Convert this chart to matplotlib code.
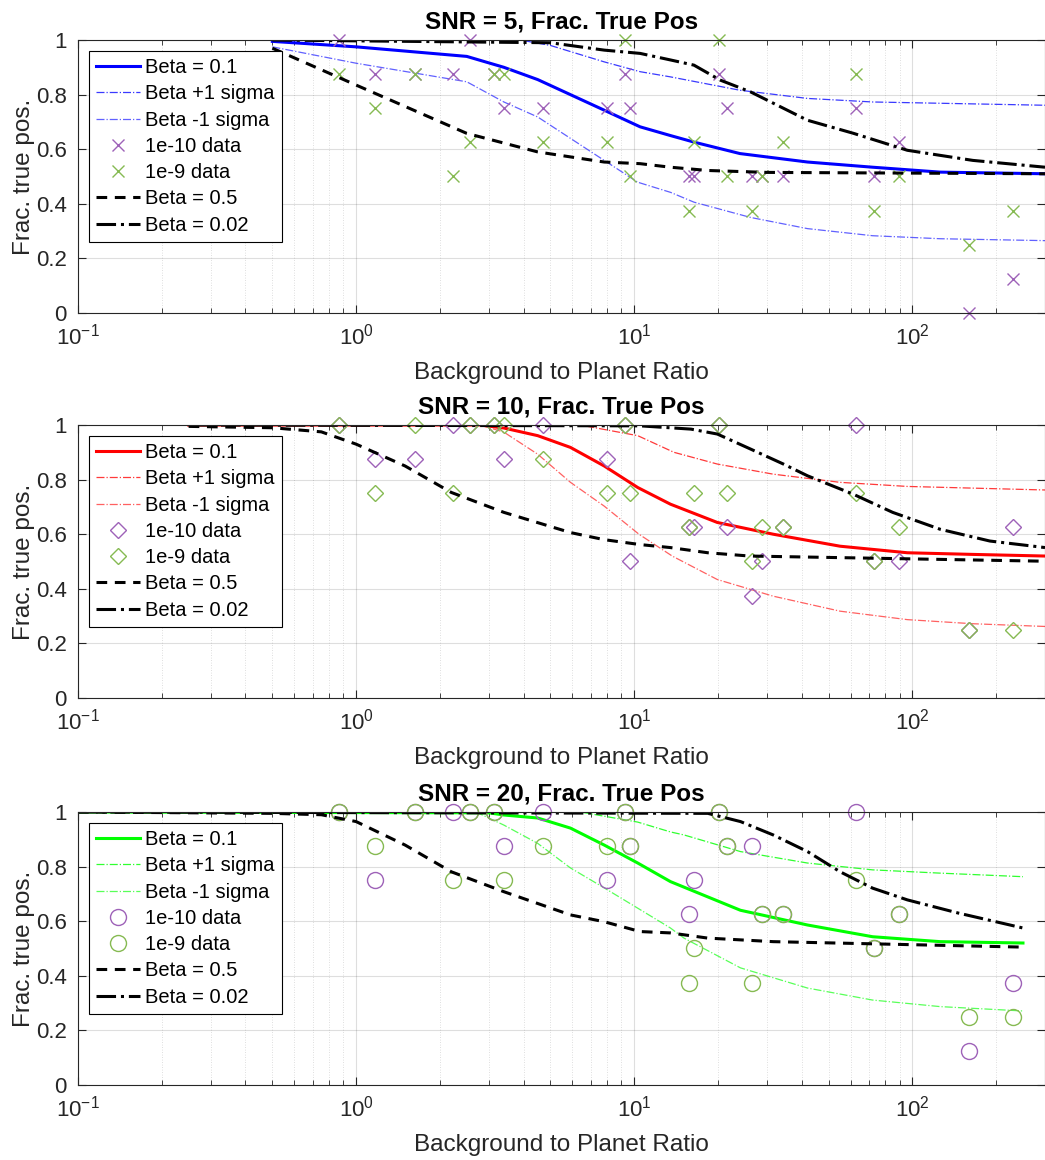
import numpy as np
import matplotlib
matplotlib.use('Agg')
import matplotlib.pyplot as plt
from matplotlib.ticker import LogLocator, NullFormatter, FixedLocator, FixedFormatter

plt.rcParams.update({'font.family': ['Liberation Sans', 'DejaVu Sans'],
    'axes.edgecolor': '#262626', 'xtick.color': '#262626', 'ytick.color': '#262626',
    'axes.labelcolor': '#262626', 'axes.linewidth': 0.8})

# ---- data ----------------------------------------------------------
xdata = [0.87, 1.17, 1.63, 2.23, 2.57, 3.13, 3.40, 4.69, 7.96, 9.25, 9.63, 15.7, 16.4,
         20.1, 21.5, 26.6, 28.9, 34.4, 63.0, 73.1, 89.8, 160, 231]

# SNR = 5
s5_m = [1.0, 0.875, 0.875, 0.875, 1.0, 0.875, 0.75, 0.75, 0.75, 0.875, 0.75, 0.5, 0.5,
        0.875, 0.75, 0.5, 0.5, 0.5, 0.75, 0.5, 0.625, 0.0, 0.125]
s5_g = [0.875, 0.75, 0.875, 0.5, 0.625, 0.875, 0.875, 0.625, 0.625, 1.0, 0.5, 0.375, 0.625,
        1.0, 0.5, 0.375, 0.5, 0.625, 0.875, 0.375, 0.5, 0.25, 0.375]
s5_b01_x = [0.5, 1.0, 2.5, 3.4, 4.5, 7.8, 10.5, 13.5, 16.4, 24, 42, 72, 126, 300]
s5_b01_y = [0.995, 0.975, 0.94, 0.9, 0.855, 0.743, 0.682, 0.65, 0.626, 0.584, 0.553, 0.534, 0.516, 0.51]
s5_p1_x = [0.5, 3.9, 5.0, 7.8, 10.5, 13.5, 24, 42, 72, 300]
s5_p1_y = [1.0, 1.0, 0.98, 0.92, 0.884, 0.865, 0.816, 0.786, 0.773, 0.761]
s5_m1_x = [0.5, 1.0, 2.5, 3.4, 4.5, 7.8, 10.3, 13.5, 16.4, 26.2, 42, 72, 126, 300]
s5_m1_y = [0.975, 0.915, 0.847, 0.773, 0.718, 0.559, 0.479, 0.442, 0.406, 0.35, 0.309, 0.283, 0.272, 0.265]
s5_d05_x = [0.5, 1.0, 2.5, 4.5, 7.8, 10.5, 13.5, 18.4, 30, 300]
s5_d05_y = [0.97, 0.835, 0.658, 0.59, 0.553, 0.547, 0.534, 0.522, 0.515, 0.51]
s5_d002_x = [0.5, 5.0, 7.8, 10.5, 13.5, 16.4, 20.4, 26.2, 42, 61.5, 96, 165, 300]
s5_d002_y = [1.0, 0.99, 0.963, 0.951, 0.927, 0.908, 0.853, 0.81, 0.706, 0.658, 0.596, 0.559, 0.534]

# SNR = 10
s10_m = [1.0, 0.875, 0.875, 1.0, 1.0, 1.0, 0.875, 1.0, 0.875, 1.0, 0.5, 0.625, 0.625,
         1.0, 0.625, 0.375, 0.5, 0.625, 1.0, 0.5, 0.5, 0.25, 0.625]
s10_g = [1.0, 0.75, 1.0, 0.75, 1.0, 1.0, 1.0, 0.875, 0.75, 1.0, 0.75, 0.625, 0.75,
         1.0, 0.75, 0.5, 0.625, 0.625, 0.75, 0.5, 0.625, 0.25, 0.25]
s10_b01_x = [0.25, 2.8, 3.4, 4.5, 5.9, 7.8, 10.3, 13.5, 19.9, 31.6, 55, 96, 165, 300]
s10_b01_y = [1.0, 1.0, 0.989, 0.961, 0.918, 0.85, 0.771, 0.71, 0.643, 0.6, 0.556, 0.532, 0.526, 0.52]
s10_p1_x = [0.25, 6.4, 10.3, 13.9, 19.9, 31.6, 55, 96, 300]
s10_p1_y = [1.0, 1.0, 0.961, 0.9, 0.857, 0.82, 0.79, 0.775, 0.762]
s10_m1_x = [0.25, 2.8, 3.4, 4.5, 5.9, 7.8, 10.4, 13.7, 19.9, 31.6, 55, 96, 165, 300]
s10_m1_y = [1.0, 1.0, 0.974, 0.893, 0.79, 0.703, 0.6, 0.52, 0.434, 0.373, 0.318, 0.287, 0.272, 0.262]
s10_d05_x = [0.25, 0.5, 0.75, 1.0, 1.5, 2.2, 3.4, 5.9, 7.8, 10.5, 13.5, 18.4, 26, 300]
s10_d05_y = [0.995, 0.99, 0.975, 0.93, 0.85, 0.753, 0.68, 0.606, 0.58, 0.562, 0.551, 0.532, 0.52, 0.501]
s10_d002_x = [0.25, 10.5, 16.0, 19.9, 26.2, 34.4, 42, 61.5, 85, 126, 190, 300]
s10_d002_y = [1.0, 0.997, 0.985, 0.967, 0.912, 0.857, 0.814, 0.746, 0.68, 0.618, 0.575, 0.551]

# SNR = 20
s20_m = [1.0, 0.75, 1.0, 1.0, 1.0, 1.0, 0.875, 1.0, 0.75, 1.0, 0.875, 0.625, 0.75,
         1.0, 0.875, 0.875, 0.625, 0.625, 1.0, 0.5, 0.625, 0.125, 0.375]
s20_g = [1.0, 0.875, 1.0, 0.75, 1.0, 1.0, 0.75, 0.875, 0.875, 1.0, 0.875, 0.375, 0.5,
         1.0, 0.875, 0.375, 0.625, 0.625, 0.75, 0.5, 0.625, 0.25, 0.25]
s20_b01_x = [0.1, 3.0, 3.4, 4.5, 5.9, 7.8, 10.3, 13.5, 24.1, 42, 72, 126, 250]
s20_b01_y = [1.0, 0.997, 0.989, 0.978, 0.941, 0.879, 0.813, 0.745, 0.64, 0.586, 0.543, 0.525, 0.52]
s20_p1_x = [0.1, 6.4, 10.3, 13.5, 15.1, 24.1, 42, 72, 126, 250]
s20_p1_y = [1.0, 1.0, 0.963, 0.927, 0.916, 0.855, 0.813, 0.788, 0.776, 0.763]
s20_m1_x = [0.1, 2.7, 3.4, 4.5, 5.9, 7.8, 10.4, 13.5, 15.1, 24.1, 42, 72, 126, 250]
s20_m1_y = [1.0, 1.0, 0.952, 0.885, 0.795, 0.722, 0.645, 0.575, 0.538, 0.429, 0.355, 0.311, 0.287, 0.271]
s20_d05_x = [0.1, 0.5, 0.75, 1.0, 1.5, 2.2, 3.4, 5.9, 7.8, 10.5, 13.5, 18.4, 31.6, 250]
s20_d05_y = [1.0, 0.995, 0.99, 0.965, 0.879, 0.781, 0.708, 0.623, 0.598, 0.562, 0.557, 0.538, 0.525, 0.505]
s20_d002_x = [0.1, 18.4, 24.1, 31.6, 42, 55, 72, 96, 146, 250]
s20_d002_y = [1.0, 0.995, 0.965, 0.916, 0.855, 0.781, 0.721, 0.678, 0.63, 0.575]

panels = [
    dict(snr=5, col='#0000FF', sig='#3a3aff', mk='x', ms=9, m=s5_m, g=s5_g,
         b=(s5_b01_x, s5_b01_y), p=(s5_p1_x, s5_p1_y), n=(s5_m1_x, s5_m1_y),
         d5=(s5_d05_x, s5_d05_y), d02=(s5_d002_x, s5_d002_y)),
    dict(snr=10, col='#FF0000', sig='#ff3a3a', mk='D', ms=8, m=s10_m, g=s10_g,
         b=(s10_b01_x, s10_b01_y), p=(s10_p1_x, s10_p1_y), n=(s10_m1_x, s10_m1_y),
         d5=(s10_d05_x, s10_d05_y), d02=(s10_d002_x, s10_d002_y)),
    dict(snr=20, col='#00FF00', sig='#30ff30', mk='o', ms=11.5, m=s20_m, g=s20_g,
         b=(s20_b01_x, s20_b01_y), p=(s20_p1_x, s20_p1_y), n=(s20_m1_x, s20_m1_y),
         d5=(s20_d05_x, s20_d05_y), d02=(s20_d002_x, s20_d002_y)),
]

PURPLE, GREEN = '#9E62B8', '#86BA52'

fig = plt.figure(figsize=(10.45, 11.6), dpi=100)
bottoms = [0.7302, 0.3983, 0.0647]
for pan, bot in zip(panels, bottoms):
    ax = fig.add_axes([0.0746, bot, 0.9254, 0.2353])
    ax.plot(*pan['b'], '-', color=pan['col'], lw=2.2, label='Beta = 0.1')
    ax.plot(*pan['p'], '-.', color=pan['sig'], lw=0.9, label='Beta +1 sigma')
    ax.plot(*pan['n'], '-.', color=pan['sig'], lw=0.9, alpha=0.8, label='Beta -1 sigma')
    mk, ms = pan['mk'], pan['ms']
    if mk == 'x':
        ax.plot(xdata, pan['m'], 'x', color=PURPLE, ms=ms, mew=1.0, clip_on=False,
                label='1e-10 data')
        ax.plot(xdata, pan['g'], 'x', color=GREEN, ms=ms, mew=1.0, clip_on=False,
                label='1e-9 data')
    else:
        ax.plot(xdata, pan['m'], mk, mfc='none', mec=PURPLE, ms=ms, mew=1.0,
                clip_on=False, label='1e-10 data')
        ax.plot(xdata, pan['g'], mk, mfc='none', mec=GREEN, ms=ms, mew=1.0,
                clip_on=False, label='1e-9 data')
    ax.plot(*pan['d5'], color='black', lw=2.2, dashes=(3.5, 2.5), label='Beta = 0.5')
    ax.plot(*pan['d02'], '-.', color='black', lw=2.2, label='Beta = 0.02')

    ax.set_xscale('log')
    ax.set_xlim(0.1, 300)
    ax.set_ylim(0, 1)
    ax.yaxis.set_major_locator(FixedLocator([0, 0.2, 0.4, 0.6, 0.8, 1.0]))
    ax.yaxis.set_major_formatter(FixedFormatter(['0', '0.2', '0.4', '0.6', '0.8', '1']))
    ax.xaxis.set_major_locator(LogLocator(base=10, numticks=10))
    ax.xaxis.set_minor_locator(LogLocator(base=10, subs=np.arange(2, 10), numticks=20))
    ax.xaxis.set_minor_formatter(NullFormatter())
    ax.tick_params(which='both', direction='in', top=True, right=True, labelsize=16)
    ax.tick_params(which='major', length=6, width=0.8, pad=8)
    ax.tick_params(which='minor', length=3.5, width=0.6)
    ax.grid(True, which='major', color='#262626', alpha=0.15, lw=0.8)
    ax.grid(True, which='minor', axis='x', color='#262626', alpha=0.2, lw=0.6,
            ls=(0, (1, 2)))
    ax.set_axisbelow(True)

    ax.set_xlabel('Background to Planet Ratio', fontsize=17.5, labelpad=9)
    ax.set_ylabel('Frac. true pos.', fontsize=17.5, labelpad=1)
    ax.set_title(f'SNR = {pan["snr"]}, Frac. True Pos', fontsize=17.5,
                 fontweight='bold', pad=8, color='black')
    leg = ax.legend(loc='upper left', fontsize=14.5, numpoints=1, fancybox=False,
                    edgecolor='black', framealpha=1, borderaxespad=0.55,
                    labelspacing=0.36, handlelength=2.2, handletextpad=0.25,
                    borderpad=0.35)
    leg.get_frame().set_linewidth(0.8)

fig.savefig('out.png', dpi=100)
